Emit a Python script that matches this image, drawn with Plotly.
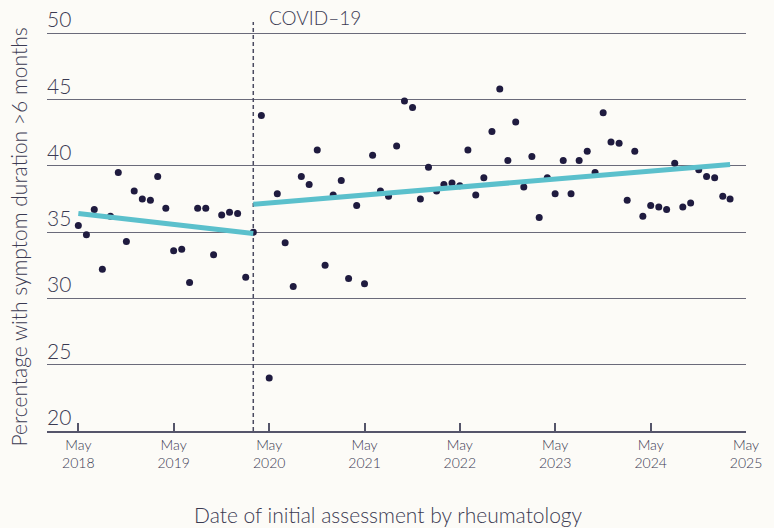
import pandas as pd
import plotly.graph_objects as go

# Monthly observations, May 2018 - Mar 2025
months = pd.date_range("2018-05-01", periods=83, freq="MS")
pct_long_duration = [
    35.5, 34.8, 36.7, 32.2, 36.2, 39.5, 34.3, 38.1, 37.5, 37.4,
    39.2, 36.8, 33.6, 33.7, 31.2, 36.8, 36.8, 33.3, 36.3, 36.5,
    36.4, 31.6, 35.0, 43.8, 24.0, 37.9, 34.2, 30.9, 39.2, 38.6,
    41.2, 32.5, 37.8, 38.9, 31.5, 37.0, 31.1, 40.8, 38.1, 37.7,
    41.5, 44.9, 44.4, 37.5, 39.9, 38.1, 38.6, 38.7, 38.5, 41.2,
    37.8, 39.1, 42.6, 45.8, 40.4, 43.3, 38.4, 40.7, 36.1, 39.1,
    37.9, 40.4, 37.9, 40.4, 41.1, 39.5, 44.0, 41.8, 41.7, 37.4,
    41.1, 36.2, 37.0, 36.9, 36.7, 40.2, 36.9, 37.2, 39.7, 39.2,
    39.1, 37.7, 37.5,
]

# Fitted trend segments
pre_trend_x = ["2018-05-01", "2020-03-01"]
pre_trend_y = [36.4, 34.9]
post_trend_x = ["2020-03-01", "2025-03-01"]
post_trend_y = [37.1, 40.1]

covid_date = "2020-03-01"
covid_label = "COVID–19"

x_tick_vals = ["2018-05-01", "2019-05-01", "2020-05-01", "2021-05-01",
               "2022-05-01", "2023-05-01", "2024-05-01", "2025-05-01"]
x_tick_text = ["May<br>2018", "May<br>2019", "May<br>2020", "May<br>2021",
               "May<br>2022", "May<br>2023", "May<br>2024", "May<br>2025"]
y_ticks = [20, 25, 30, 35, 40, 45, 50]

FONT = "Lato, 'Open Sans', sans-serif"
TEXT = "#3b3a52"
BG = "#fcfbf7"
Y_TOP = 50.85

fig = go.Figure()

# covid marker line
fig.add_trace(go.Scatter(
    x=[covid_date, covid_date], y=[20, Y_TOP], mode="lines",
    line=dict(color="#4a4a60", width=1.5, dash="4px,3px"),
    hoverinfo="skip", showlegend=False, cliponaxis=False,
))

fig.add_trace(go.Scatter(
    x=months, y=pct_long_duration, mode="markers",
    marker=dict(color="#1f1b3f", size=7),
    showlegend=False,
))

for tx, ty in [(pre_trend_x, pre_trend_y), (post_trend_x, post_trend_y)]:
    fig.add_trace(go.Scatter(
        x=tx, y=ty, mode="lines",
        line=dict(color="#5bc0cc", width=5),
        showlegend=False,
    ))

annotations = []
for v in y_ticks:
    annotations.append(dict(
        x=0, xref="paper", y=v, yref="y", text=str(v),
        xanchor="left", yanchor="bottom", showarrow=False,
        font=dict(family=FONT, size=21, color=TEXT, weight=300),
        xshift=-2,
    ))
annotations.append(dict(
    x=covid_date, xref="x", y=1, yref="paper", text=covid_label,
    xanchor="left", yanchor="middle", showarrow=False, xshift=14, yshift=5,
    font=dict(family=FONT, size=19, color=TEXT, weight=300),
))
annotations.append(dict(
    x=0.5, xref="paper", y=0, yref="paper",
    text="Date of initial assessment by rheumatology",
    xanchor="center", yanchor="middle", showarrow=False,
    xshift=-8, yshift=-83,
    font=dict(family=FONT, size=21, color=TEXT, weight=300),
))
annotations.append(dict(
    x=0, xref="paper", y=0.5, yref="paper",
    text="Percentage with symptom duration >6 months",
    textangle=-90, xanchor="center", yanchor="middle", showarrow=False,
    xshift=-29, yshift=-11,
    font=dict(family=FONT, size=21, color=TEXT, weight=300),
))

fig.update_layout(
    width=774, height=528,
    margin=dict(l=47, r=25, t=22, b=97),
    paper_bgcolor=BG, plot_bgcolor=BG,
    annotations=annotations,
    font=dict(family=FONT, color=TEXT),
    xaxis=dict(
        type="date", range=["2018-01-01", "2025-05-01"],
        tickvals=x_tick_vals, ticktext=x_tick_text,
        ticks="inside", ticklen=8, tickcolor="#55556a", tickwidth=1.5,
        showline=True, linecolor="#55556a", linewidth=1.5,
        showgrid=False, zeroline=False,
        tickfont=dict(family=FONT, size=14, color=TEXT, weight=300),
    ),
    yaxis=dict(
        range=[20, Y_TOP], tickvals=y_ticks, showticklabels=False,
        showgrid=True, gridcolor="#6a6a7a", gridwidth=1.3,
        zeroline=False, showline=False, ticks="",
    ),
)

fig.write_html(
    "out.html",
    config={"displayModeBar": False},
    post_script="document.body.style.margin='0';document.body.style.padding='0';"
                "document.body.style.background='#fcfbf7';",
)
